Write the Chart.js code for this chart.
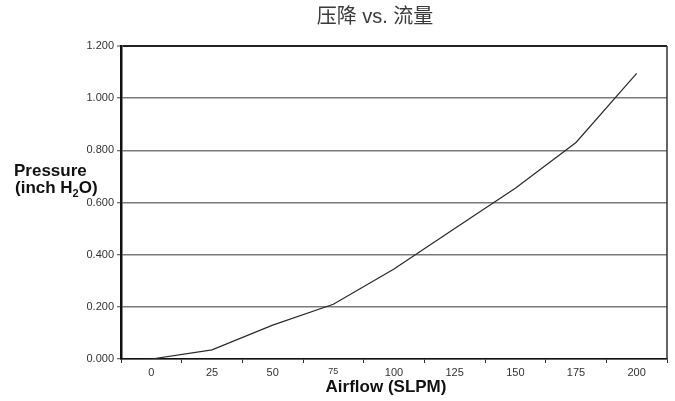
<!DOCTYPE html>
<html>
<head>
<meta charset="utf-8">
<script src="https://cdn.jsdelivr.net/npm/chart.js@4.4.1/dist/chart.umd.min.js"></script>
<style>
  html, body { margin: 0; padding: 0; background: #fff; }
  #wrap { width: 675px; height: 401px; }
</style>
</head>
<body>
<div id="wrap"><canvas id="pressureChart"></canvas></div>
<script>
// --- datos del grafico ---
const airflowLabels = ['0', '25', '50', '75', '100', '125', '150', '175', '200'];
const pressureValues = [0.000, 0.035, 0.130, 0.210, 0.345, 0.500, 0.655, 0.830, 1.095];
const yTicks = [0, 0.2, 0.4, 0.6, 0.8, 1.0, 1.2];

const chartTitle = '压降 vs. 流量';
const xTitle = 'Airflow (SLPM)';

const FONT = '"Liberation Sans", Arial, sans-serif';

// textos fuera del area (titulo, ejes) y borde derecho
const textPlugin = {
    id: 'extraText',
    afterDraw(chart) {
        const ctx = chart.ctx;
        const area = chart.chartArea;
        ctx.save();

        // borde derecho
        ctx.strokeStyle = '#333';
        ctx.lineWidth = 1.5;
        ctx.beginPath();
        ctx.moveTo(area.right, area.top);
        ctx.lineTo(area.right, area.bottom);
        ctx.stroke();

        // titulo
        ctx.fillStyle = '#3a3a3a';
        ctx.font = '20px ' + FONT + ', "Noto Sans CJK SC"';
        ctx.textAlign = 'center';
        ctx.textBaseline = 'middle';
        ctx.fillText(chartTitle, 375, 17);

        // titulo eje X
        ctx.fillStyle = '#111';
        ctx.font = 'bold 17px ' + FONT;
        ctx.textBaseline = 'alphabetic';
        ctx.fillText(xTitle, 386, 392);

        // titulo eje Y con subindice
        ctx.textAlign = 'left';
        ctx.fillText('Pressure', 14, 176);
        let x = 15;
        const part1 = '(inch H';
        ctx.fillText(part1, x, 193);
        x += ctx.measureText(part1).width;
        ctx.font = 'bold 11px ' + FONT;
        ctx.fillText('2', x, 197);
        x += ctx.measureText('2').width;
        ctx.font = 'bold 17px ' + FONT;
        ctx.fillText('O)', x, 193);

        ctx.restore();
    }
};

const ctx = document.getElementById('pressureChart').getContext('2d');
new Chart(ctx, {
    type: 'line',
    data: {
        labels: airflowLabels,
        datasets: [{
            data: pressureValues,
            borderColor: '#2a2a2a',
            borderWidth: 1.2,
            pointRadius: 0,
            tension: 0,
            fill: false
        }]
    },
    options: {
        responsive: true,
        maintainAspectRatio: false,
        animation: false,
        devicePixelRatio: 1,
        layout: { padding: { top: 46, right: 8, bottom: 0, left: 0 } },
        plugins: {
            legend: { display: false },
            title: { display: false },
            tooltip: { enabled: false }
        },
        scales: {
            x: {
                type: 'category',
                offset: true,
                afterFit: (s) => { s.height = 42; },
                grid: {
                    drawOnChartArea: false,
                    drawTicks: true,
                    tickLength: 4,
                    tickColor: '#333',
                    offset: true
                },
                border: { display: true, color: '#111', width: 1.5 },
                ticks: {
                    color: '#333',
                    padding: 3,
                    maxRotation: 0,
                    font: (c) => ({ family: FONT, size: (c.tick && c.tick.label === '75') ? 9 : 11 })
                }
            },
            y: {
                min: 0,
                max: 1.2,
                afterFit: (s) => { s.width = 121; },
                afterBuildTicks: (s) => { s.ticks = yTicks.map(v => ({ value: v })); },
                grid: {
                    color: (c) => (c.tick && c.tick.value === 1.2) ? '#222' : '#7a7a7a',
                    lineWidth: (c) => (c.tick && c.tick.value === 1.2) ? 2 : 1.5,
                    drawTicks: true,
                    tickLength: 4,
                    tickColor: '#444',
                    tickWidth: 1
                },
                border: { display: true, color: '#111', width: 2.5 },
                ticks: {
                    color: '#333',
                    padding: 3,
                    font: { family: FONT, size: 11 },
                    callback: (v) => Number(v).toFixed(3)
                }
            }
        }
    },
    plugins: [textPlugin]
});
</script>
</body>
</html>
